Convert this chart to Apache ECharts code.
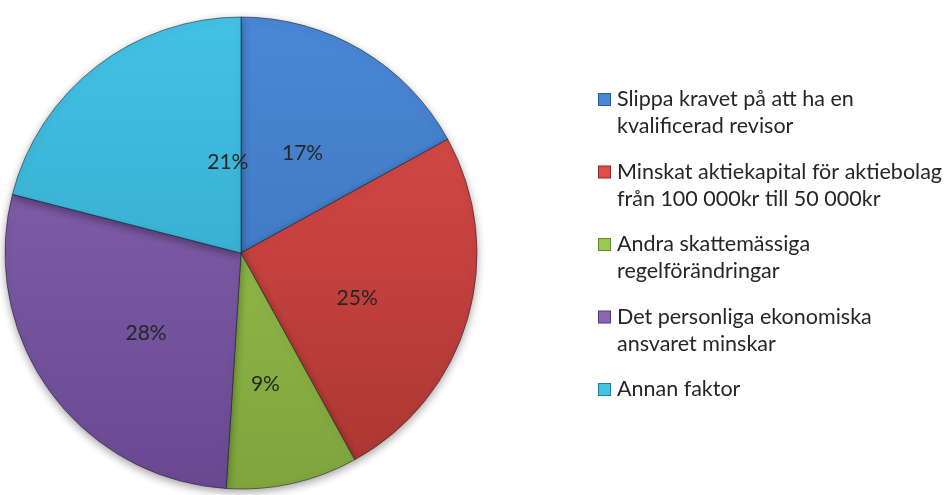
<!DOCTYPE html>
<html>
<head>
<meta charset="utf-8">
<script src="https://cdn.jsdelivr.net/npm/echarts@6/dist/echarts.min.js"></script>
<style>
  html, body { margin: 0; padding: 0; background: #ffffff; }
  #chart { width: 949px; height: 495px; }
</style>
</head>
<body>
<div id="chart"></div>
<script>
// ---- data ----
const categories = [
  "Slippa kravet på att ha en\nkvalificerad revisor",
  "Minskat aktiekapital för aktiebolag\nfrån 100 000kr till 50 000kr",
  "Andra skattemässiga\nregelförändringar",
  "Det personliga ekonomiska\nansvaret minskar",
  "Annan faktor"
];
const values = [17, 25, 9, 28, 21];

// ---- styles ----
const topColors    = ["#4a87d6", "#e04e4a", "#9cc84f", "#8966b4", "#43c2e4"];
const bottomColors = ["#3a6fb4", "#a93532", "#7ea43c", "#684990", "#2f9fc0"];
const edgeColors   = ["#2c5a94", "#8c2a27", "#66862f", "#513877", "#237f9a"];
const labelNudge   = [[0, 4], [0, 11], [-2, 13], [3, 9], [61, 5]];

const chart = echarts.init(document.getElementById('chart'), null, { renderer: 'canvas' });

const rich = {
  sp: { width: 7, lineHeight: 27 },
  ind: { width: 18, lineHeight: 27 }
};
topColors.forEach((c, i) => {
  rich['m' + i] = {
    width: 11, height: 11, lineHeight: 27,
    backgroundColor: c, borderColor: edgeColors[i], borderWidth: 1,
    verticalAlign: 'middle'
  };
});

const seriesData = categories.map((name, i) => ({
  name: name,
  value: values[i],
  itemStyle: {
    color: new echarts.graphic.LinearGradient(0, 14, 0, 493, [
      { offset: 0, color: topColors[i] },
      { offset: 1, color: bottomColors[i] }
    ], true)
  }
}));

chart.setOption({
  backgroundColor: '#ffffff',
  animation: false,
  legend: {
    orient: 'vertical',
    left: 594,
    top: 86,
    padding: 0,
    itemGap: 18.5,
    itemWidth: 0,
    itemHeight: 0,
    icon: 'none',
    selectedMode: false,
    data: categories,
    formatter: function (name) {
      const i = categories.indexOf(name);
      const lines = name.split('\n');
      const second = lines.length > 1 ? lines[1] : ' ';
      return '{m' + i + '| }{sp| }' + lines[0] + '\n{ind| }' + second;
    },
    textStyle: {
      fontFamily: 'Lato',
      fontSize: 21.5,
      color: '#262626',
      lineHeight: 27,
      rich: rich
    }
  },
  series: [{
    type: 'pie',
    center: [241, 253],
    radius: 236,
    startAngle: 90,
    clockwise: true,
    avoidLabelOverlap: false,
    silent: true,
    data: seriesData,
    itemStyle: {
      borderColor: 'rgba(20,30,40,0.55)',
      borderWidth: 1,
      shadowBlur: 8,
      shadowOffsetY: 3,
      shadowColor: 'rgba(0,0,0,0.35)'
    },
    label: {
      show: true,
      position: 'inside',
      formatter: function (p) { return values[p.dataIndex] + '%'; },
      fontFamily: 'Lato',
      fontSize: 21,
      color: '#262626'
    },
    labelLine: { show: false },
    labelLayout: function (params) {
      const n = labelNudge[params.dataIndex];
      return { dx: n[0], dy: n[1] };
    }
  }]
});
</script>
</body>
</html>
